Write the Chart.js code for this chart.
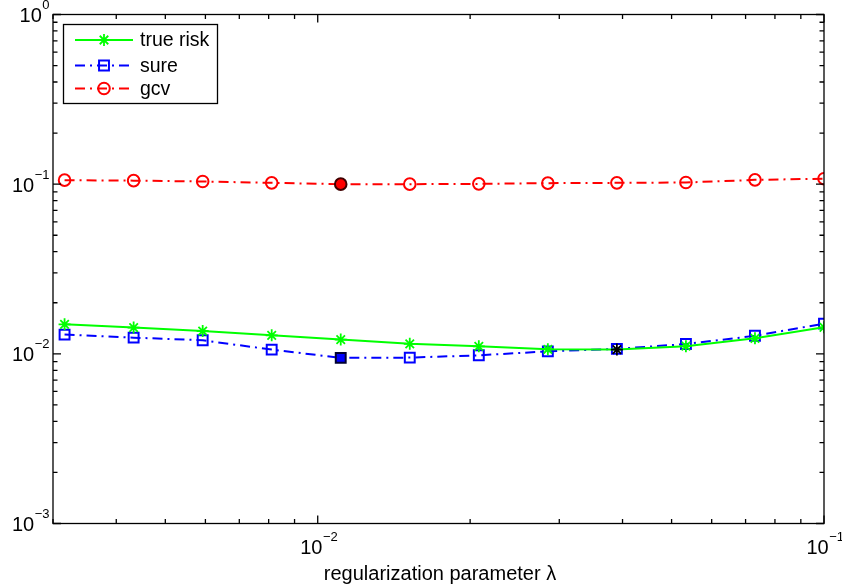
<!DOCTYPE html>
<html>
<head>
<meta charset="utf-8">
<script src="https://cdn.jsdelivr.net/npm/chart.js@4.4.1/dist/chart.umd.min.js"></script>
<style>
  html, body { margin: 0; padding: 0; background: #fff; }
  #wrap { width: 842px; height: 588px; }
</style>
</head>
<body>
<div id="wrap"><canvas id="myChart" width="842" height="588"></canvas></div>
<script>
// regularization parameter values (x)
const lambdas = [0.003162, 0.004329, 0.005926, 0.008111, 0.011103, 0.015199,
                 0.020806, 0.028480, 0.038986, 0.053367, 0.073053, 0.1]
const trueRisk = [0.01493, 0.01428, 0.01363, 0.01285, 0.01213, 0.01146,
                  0.01107, 0.01064, 0.01060, 0.01110, 0.01234, 0.01433]
const sure = [0.01298, 0.01246, 0.01202, 0.01059, 0.00947, 0.00950,
              0.00980, 0.01034, 0.01070, 0.01142, 0.01277, 0.01507]
const gcv = [0.1056, 0.1049, 0.1037, 0.1018, 0.1000, 0.1000,
             0.1004, 0.1014, 0.1018, 0.1023, 0.1060, 0.1077]
const seriesNames = ['true risk', 'sure', 'gcv']
// index of the highlighted (selected) point per series
const bestRisk = 8
const bestSure = 4
const bestGcv = 4

const xTickVals = [0.01, 0.1]
const xTickExp = ['\u22122', '\u22121']
const yTickVals = [0.001, 0.01, 0.1, 1]
const yTickExp = ['\u22123', '\u22122', '\u22121', '0']
const xTitle = 'regularization parameter \u03bb'

const FONT = '"Liberation Sans", Arial, Helvetica, sans-serif'

function pts(ys) {
  return lambdas.map((x, i) => ({ x: x, y: ys[i] }))
}

function pick(idx, hit, other) {
  return (ctx) => ctx.dataIndex === idx ? hit : other
}

const datasets = [
  {
    label: seriesNames[0],
    data: pts(trueRisk),
    borderColor: '#00ff00',
    borderWidth: 2,
    pointStyle: 'star',
    pointRadius: 6,
    pointBorderWidth: 1.8,
    pointBorderColor: pick(bestRisk, '#000000', '#00ff00'),
    pointBackgroundColor: 'transparent'
  },
  {
    label: seriesNames[1],
    data: pts(sure),
    borderColor: '#0000ff',
    borderWidth: 2,
    borderDash: [10, 5, 2, 5],
    pointStyle: 'rect',
    pointRadius: 7,
    pointBorderWidth: 2,
    pointBorderColor: pick(bestSure, '#000033', '#0000ff'),
    pointBackgroundColor: pick(bestSure, '#0000ff', 'transparent')
  },
  {
    label: seriesNames[2],
    data: pts(gcv),
    borderColor: '#ff0000',
    borderWidth: 2,
    borderDash: [10, 5, 2, 5],
    pointStyle: 'circle',
    pointRadius: 5.8,
    pointBorderWidth: 2,
    pointBorderColor: pick(bestGcv, '#400000', '#ff0000'),
    pointBackgroundColor: pick(bestGcv, '#ff0000', 'transparent')
  }
]

// draw "10" with a raised exponent
function drawPow(ctx, x, y, exp, align) {
  ctx.font = '20px ' + FONT
  const w10 = ctx.measureText('10').width
  ctx.font = '13px ' + FONT
  const we = ctx.measureText(exp).width
  let x0 = align === 'right' ? x - w10 - we : x - (w10 + we) / 2
  ctx.fillStyle = '#000'
  ctx.textAlign = 'left'
  ctx.textBaseline = 'middle'
  ctx.font = '20px ' + FONT
  ctx.fillText('10', x0, y)
  ctx.font = '13px ' + FONT
  ctx.fillText(exp, x0 + w10 + 0.5, y - 11)
}

const frame = {
  id: 'frame',
  afterDatasetsDraw(chart) {
    const ctx = chart.ctx
    const a = chart.chartArea
    const xs = chart.scales.x
    const ys = chart.scales.y
    ctx.save()
    ctx.strokeStyle = '#000'
    ctx.lineWidth = 1.3
    ctx.setLineDash([])
    ctx.strokeRect(a.left, a.top, a.right - a.left, a.bottom - a.top)

    ctx.beginPath()
    // x ticks
    for (let d = -3; d <= -1; d++) {
      for (let m = 1; m <= 9; m++) {
        const v = m * Math.pow(10, d)
        if (v < xs.min * 0.999 || v > xs.max * 1.001) continue
        const px = xs.getPixelForValue(v)
        const len = m === 1 ? 8 : 4.5
        ctx.moveTo(px, a.bottom); ctx.lineTo(px, a.bottom - len)
        ctx.moveTo(px, a.top); ctx.lineTo(px, a.top + len)
      }
    }
    // y ticks
    for (let d = -3; d <= 0; d++) {
      for (let m = 1; m <= 9; m++) {
        const v = m * Math.pow(10, d)
        if (v < ys.min * 0.999 || v > ys.max * 1.001) continue
        const py = ys.getPixelForValue(v)
        const len = m === 1 ? 8 : 4.5
        ctx.moveTo(a.left, py); ctx.lineTo(a.left + len, py)
        ctx.moveTo(a.right, py); ctx.lineTo(a.right - len, py)
      }
    }
    ctx.stroke()

    for (let i = 0; i < yTickVals.length; i++) {
      drawPow(ctx, a.left - 4, ys.getPixelForValue(yTickVals[i]) + 2, yTickExp[i], 'right')
    }
    for (let i = 0; i < xTickVals.length; i++) {
      drawPow(ctx, xs.getPixelForValue(xTickVals[i]) + 1, a.bottom + 25, xTickExp[i], 'center')
    }

    ctx.font = '20px ' + FONT
    ctx.textAlign = 'center'
    ctx.textBaseline = 'middle'
    ctx.fillText(xTitle, 440, 574)

    // legend
    const lx = 63.5, ly = 24.5, lw = 154, lh = 79
    ctx.fillStyle = '#fff'
    ctx.fillRect(lx, ly, lw, lh)
    ctx.strokeStyle = '#000'
    ctx.lineWidth = 1.3
    ctx.strokeRect(lx, ly, lw, lh)
    const rows = [40, 65.5, 88.5]
    chart.data.datasets.forEach((ds, i) => {
      const y = rows[i]
      ctx.save()
      ctx.strokeStyle = ds.borderColor
      ctx.lineWidth = ds.borderWidth
      ctx.setLineDash(ds.borderDash || [])
      ctx.beginPath()
      ctx.moveTo(75, y); ctx.lineTo(133, y)
      ctx.stroke()
      ctx.setLineDash([])
      ctx.strokeStyle = ds.borderColor
      ctx.fillStyle = 'transparent'
      ctx.lineWidth = ds.pointBorderWidth
      Chart.helpers.drawPoint(ctx, { pointStyle: ds.pointStyle, radius: ds.pointRadius, rotation: 0, borderWidth: ds.pointBorderWidth }, 104, y)
      ctx.restore()
      ctx.fillStyle = '#000'
      ctx.font = '19.5px ' + FONT
      ctx.textAlign = 'left'
      ctx.textBaseline = 'middle'
      ctx.fillText(ds.label, 140, y + 1)
    })
    ctx.restore()
  }
}

let ctx = document.getElementById('myChart').getContext('2d')
let chart = new Chart(ctx, {
  type: 'line',
  data: { datasets: datasets },
  options: {
    responsive: false,
    animation: false,
    layout: { padding: { left: 53, right: 18, top: 14.5, bottom: 64.5 } },
    scales: {
      x: { type: 'logarithmic', min: 0.003, max: 0.1, display: false },
      y: { type: 'logarithmic', min: 0.001, max: 1, display: false }
    },
    plugins: { legend: { display: false }, tooltip: { enabled: false } }
  },
  plugins: [frame]
})
</script>
</body>
</html>
